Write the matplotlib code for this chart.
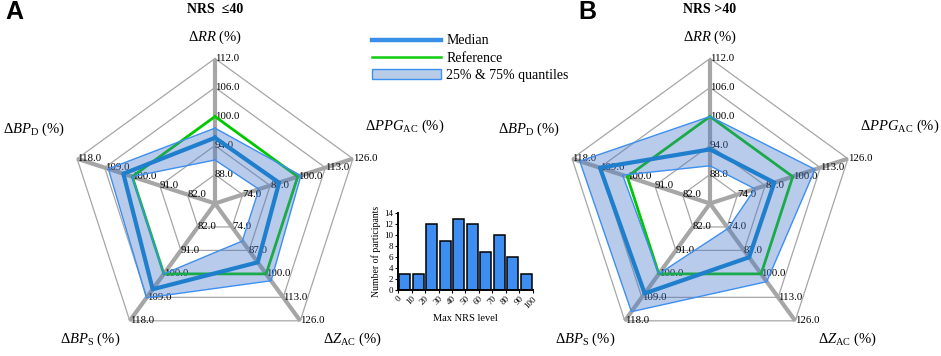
import numpy as np
import matplotlib
matplotlib.use("Agg")
import matplotlib.pyplot as plt
from matplotlib.lines import Line2D
from matplotlib.patches import Patch, PathPatch
from matplotlib.path import Path

plt.rcParams['font.family'] = ['Liberation Serif', 'DejaVu Serif']
plt.rcParams['mathtext.fontset'] = 'custom'
plt.rcParams['mathtext.rm'] = 'Liberation Serif'
plt.rcParams['mathtext.it'] = 'Liberation Serif:italic'
plt.rcParams['mathtext.bf'] = 'Liberation Serif:bold'

# radar axes, clockwise from top
axis_names = ['Δ$\\mathit{RR}$ (%)', 'Δ$\\mathit{PPG}_{\\mathrm{AC}}$ (%)', 'Δ$\\mathit{Z}_{\\mathrm{AC}}$ (%)',
              'Δ$\\mathit{BP}_{\\mathrm{S}}$ (%)', 'Δ$\\mathit{BP}_{\\mathrm{D}}$ (%)']
axis_min = [82, 61, 61, 73, 73]
axis_max = [112, 126, 126, 118, 118]
reference = [100, 100, 100, 100, 100]

# panel A: NRS <= 40
q25_a = [91.0, 81.7, 81.8, 100.0, 100.0]
median_a = [95.6, 91.2, 93.6, 105.9, 102.9]
q75_a = [97.6, 101.5, 103.8, 109.2, 107.8]

# panel B: NRS > 40
q25_b = [89.8, 82.2, 74.8, 100.0, 101.5]
median_b = [93.2, 91.3, 90.8, 107.5, 108.9]
q75_b = [100.0, 110.5, 104.3, 114.5, 115.5]

# histogram inset
nrs_edges = [0, 10, 20, 30, 40, 50, 60, 70, 80, 90, 100]
participants = [3, 3, 12, 9, 13, 12, 7, 10, 6, 3]

W, H = 941, 356
R = 145.0  # outer ring radius in px
theta = np.arange(5) * 2 * np.pi / 5

GRID = '#a6a6a6'
GREEN = '#00c800'
MEDIAN = '#1f7fcc'
EDGE = '#3d8ff0'
BAND = (70 / 255, 120 / 255, 200 / 255)

fig = plt.figure(figsize=(W / 100, H / 100), dpi=100)


def to_xy(values):
    r = np.array([(v - lo) / (hi - lo) for v, lo, hi in zip(values, axis_min, axis_max)])
    return r * np.sin(theta), r * np.cos(theta)


def closed(x, y):
    return np.append(x, x[0]), np.append(y, y[0])


def radar(cx, title, q25, med, q75, letter, letter_x):
    ax = fig.add_axes([(cx - 1.48 * R) / W, (152.5 - 1.05 * R) / H, 2.96 * R / W, 2.45 * R / H])
    ax.set_xlim(-1.48, 1.48)
    ax.set_ylim(-1.05, 1.40)
    ax.axis('off')

    # rings and spokes
    for j in range(1, 6):
        r = j / 5
        x, y = closed(r * np.sin(theta), r * np.cos(theta))
        ax.plot(x, y, color=GRID, lw=0.9, zorder=1)
    for t in theta:
        ax.plot([0, np.sin(t)], [0, np.cos(t)], color=GRID, lw=3, zorder=2, solid_capstyle='butt')

    # ring value labels
    for k in range(5):
        step = (axis_max[k] - axis_min[k]) / 5
        for j in range(1, 6):
            r = j / 5
            ax.text(r * np.sin(theta[k]), r * np.cos(theta[k]), f'{axis_min[k] + j * step:.1f}',
                    ha='left', va='center', fontsize=7.8, zorder=3)

    # reference
    x, y = closed(*to_xy(reference))
    ax.plot(x, y, color=GREEN, lw=2, zorder=4)

    # quantile band
    xo, yo = closed(*to_xy(q75))
    xi, yi = closed(*to_xy(q25))
    verts = np.concatenate([np.column_stack([xo, yo]), np.column_stack([xi, yi])[::-1]])
    codes = ([Path.MOVETO] + [Path.LINETO] * 4 + [Path.CLOSEPOLY]) * 2
    ax.add_patch(PathPatch(Path(verts, codes), facecolor=BAND, alpha=0.38, edgecolor='none', zorder=5))
    ax.plot(xo, yo, color=EDGE, lw=1, zorder=6)
    ax.plot(xi, yi, color=EDGE, lw=1, zorder=6)

    # median
    x, y = closed(*to_xy(med))
    ax.plot(x, y, color=MEDIAN, lw=3, zorder=7)

    # axis names
    name_pos = [(0, 1.148), (1.31, 0.53), (0.95, -0.94), (-0.86, -0.94), (-1.25, 0.51)]
    for name, (tx, ty) in zip(axis_names, name_pos):
        ax.text(tx, ty, name, ha='center', va='center', fontsize=10.5)

    ax.text(0, 1.335, title, ha='center', va='center', fontsize=10, fontweight='bold')
    fig.text(letter_x / W, 1 - 12 / H, letter, ha='center', va='center', fontsize=18,
             fontweight='bold', family='Liberation Sans')


radar(215, 'NRS  ≤40', q25_a, median_a, q75_a, 'A', 14)
radar(710, 'NRS >40', q25_b, median_b, q75_b, 'B', 587)

# legend
handles = [Line2D([], [], color='#3a8fe6', lw=3.2),
           Line2D([], [], color='#10cc10', lw=1.8),
           Patch(facecolor='#b8cce8', edgecolor=EDGE, lw=1)]
fig.legend(handles, ['Median', 'Reference', '25% & 75% quantiles'], loc='upper left',
           bbox_to_anchor=(372 / W, 1 - 34.5 / H), frameon=False, fontsize=10,
           handlelength=5.0, handletextpad=0.36, labelspacing=0.3, borderpad=0, borderaxespad=0)

# histogram inset
hx = fig.add_axes([398 / W, 66 / H, 135 / W, 77 / H])
centers = [(a + b) / 2 for a, b in zip(nrs_edges[:-1], nrs_edges[1:])]
hx.bar(centers, participants, width=8, color='#3d8ef0', edgecolor='black', lw=1.1)
hx.set_xlim(0, 100)
hx.set_ylim(0, 14)
hx.set_yticks(range(0, 15, 2))
hx.set_xticks(nrs_edges)
hx.set_xticklabels([str(v) for v in nrs_edges], rotation=45, ha='right', rotation_mode='anchor')
hx.tick_params(labelsize=6.5, length=2, width=0.8, pad=1.5)
for s in ['top', 'right']:
    hx.spines[s].set_visible(False)
for s in ['left', 'bottom']:
    hx.spines[s].set_linewidth(1.4)
hx.set_ylabel('Number of participants', fontsize=7, labelpad=2)
hx.set_xlabel('Max NRS level', fontsize=7.5, labelpad=3)

fig.savefig('out.png', dpi=100)
